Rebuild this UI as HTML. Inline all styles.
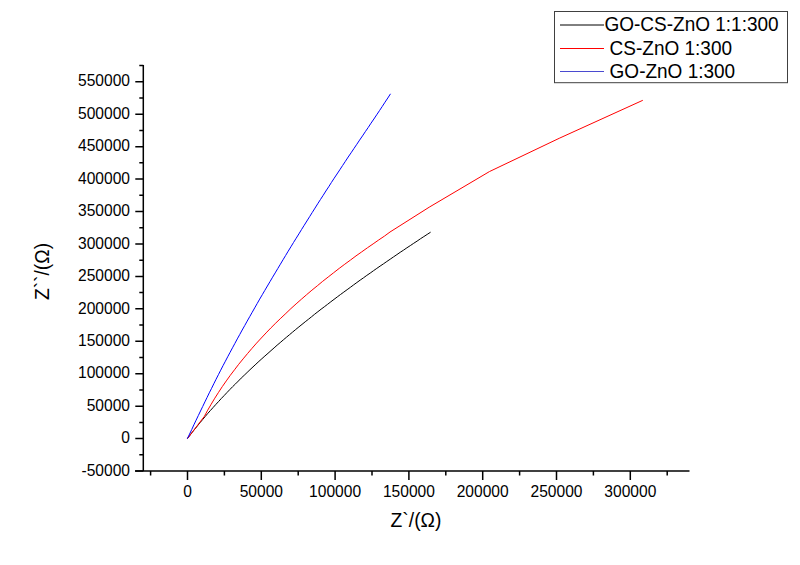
<!DOCTYPE html>
<html><head><meta charset="utf-8"><style>
html,body{margin:0;padding:0;background:#fff;}
body{width:800px;height:565px;overflow:hidden;}
svg{display:block;}
text{font-family:"Liberation Sans",sans-serif;fill:#000;}
</style></head><body>
<svg width="800" height="565" viewBox="0 0 800 565">
<rect width="800" height="565" fill="#fff"/>
<path d="M143.3,65 V471" stroke="#000" stroke-width="1.5" fill="none"/>
<path d="M135.0,471 H689.5" stroke="#000" stroke-width="1.5" fill="none"/>
<path d="M135.3,471.04H143.3M139.3,454.82H143.3M135.3,438.60H143.3M139.3,422.38H143.3M135.3,406.16H143.3M139.3,389.94H143.3M135.3,373.72H143.3M139.3,357.50H143.3M135.3,341.28H143.3M139.3,325.06H143.3M135.3,308.84H143.3M139.3,292.62H143.3M135.3,276.40H143.3M139.3,260.18H143.3M135.3,243.96H143.3M139.3,227.74H143.3M135.3,211.52H143.3M139.3,195.30H143.3M135.3,179.08H143.3M139.3,162.86H143.3M135.3,146.64H143.3M139.3,130.42H143.3M135.3,114.20H143.3M139.3,97.98H143.3M135.3,81.76H143.3M139.3,65.50H143.3" stroke="#000" stroke-width="1.5" fill="none"/>
<path d="M150.60,471V475.5M187.50,471V480M224.40,471V475.5M261.30,471V480M298.20,471V475.5M335.10,471V480M372.00,471V475.5M408.90,471V480M445.80,471V475.5M482.70,471V480M519.60,471V475.5M556.50,471V480M593.40,471V475.5M630.30,471V480M667.20,471V475.5" stroke="#000" stroke-width="1.5" fill="none"/>
<text transform="translate(130,475.74) scale(1,1.03)" text-anchor="end" font-size="15.6">-50000</text>
<text transform="translate(130,443.30) scale(1,1.03)" text-anchor="end" font-size="15.6">0</text>
<text transform="translate(130,410.86) scale(1,1.03)" text-anchor="end" font-size="15.6">50000</text>
<text transform="translate(130,378.42) scale(1,1.03)" text-anchor="end" font-size="15.6">100000</text>
<text transform="translate(130,345.98) scale(1,1.03)" text-anchor="end" font-size="15.6">150000</text>
<text transform="translate(130,313.54) scale(1,1.03)" text-anchor="end" font-size="15.6">200000</text>
<text transform="translate(130,281.10) scale(1,1.03)" text-anchor="end" font-size="15.6">250000</text>
<text transform="translate(130,248.66) scale(1,1.03)" text-anchor="end" font-size="15.6">300000</text>
<text transform="translate(130,216.22) scale(1,1.03)" text-anchor="end" font-size="15.6">350000</text>
<text transform="translate(130,183.78) scale(1,1.03)" text-anchor="end" font-size="15.6">400000</text>
<text transform="translate(130,151.34) scale(1,1.03)" text-anchor="end" font-size="15.6">450000</text>
<text transform="translate(130,118.90) scale(1,1.03)" text-anchor="end" font-size="15.6">500000</text>
<text transform="translate(130,86.46) scale(1,1.03)" text-anchor="end" font-size="15.6">550000</text>
<text transform="translate(187.50,496.5) scale(1,1.03)" text-anchor="middle" font-size="15.6">0</text>
<text transform="translate(261.30,496.5) scale(1,1.03)" text-anchor="middle" font-size="15.6">50000</text>
<text transform="translate(335.10,496.5) scale(1,1.03)" text-anchor="middle" font-size="15.6">100000</text>
<text transform="translate(408.90,496.5) scale(1,1.03)" text-anchor="middle" font-size="15.6">150000</text>
<text transform="translate(482.70,496.5) scale(1,1.03)" text-anchor="middle" font-size="15.6">200000</text>
<text transform="translate(556.50,496.5) scale(1,1.03)" text-anchor="middle" font-size="15.6">250000</text>
<text transform="translate(630.30,496.5) scale(1,1.03)" text-anchor="middle" font-size="15.6">300000</text>
<text x="416" y="526.5" text-anchor="middle" font-size="19.3">Z`/(&#937;)</text>
<text transform="translate(48.6,271.5) rotate(-90)" text-anchor="middle" font-size="19.3">Z``/(&#937;)</text>
<polyline points="187.4,438.6 189.9,435.4 192.3,432.2 194.9,429.0 197.4,425.9 200.0,422.7 202.6,419.6 205.2,416.5 207.8,413.4 210.5,410.4 213.2,407.4 215.9,404.4 218.7,401.4 221.4,398.4 224.2,395.5 227.0,392.5 229.8,389.6 232.6,386.7 235.5,383.9 238.4,381.0 241.2,378.1 244.2,375.3 247.1,372.5 250.0,369.7 253.0,366.9 255.9,364.2 258.9,361.4 261.9,358.7 264.9,356.0 268.0,353.3 271.0,350.6 274.1,347.9 277.1,345.2 280.2,342.6 283.3,339.9 286.4,337.3 289.5,334.7 292.6,332.1 295.7,329.5 298.9,326.9 302.0,324.4 305.2,321.8 308.4,319.3 311.5,316.8 314.7,314.2 317.9,311.7 321.1,309.2 324.3,306.8 327.6,304.3 330.8,301.8 334.0,299.4 337.3,296.9 340.5,294.5 343.8,292.1 347.1,289.7 350.4,287.3 353.6,284.9 356.9,282.5 360.2,280.1 363.5,277.8 366.8,275.4 370.2,273.1 373.5,270.7 376.8,268.4 380.1,266.1 383.5,263.8 386.8,261.5 390.2,259.2 393.5,256.9 396.9,254.6 400.2,252.3 403.6,250.1 406.9,247.8 410.3,245.6 413.7,243.3 417.1,241.1 420.4,238.8 423.8,236.6 427.2,234.4 430.6,232.2" stroke="#000000" stroke-width="1.0" fill="none" stroke-linejoin="round"/>
<polyline points="187.4,438.6 204.4,416.3 207.7,410.2 211.2,404.2 214.8,398.2 218.5,392.4 222.3,386.6 226.3,380.9 230.3,375.3 234.5,369.8 238.7,364.3 243.1,358.9 247.5,353.6 252.0,348.3 256.6,343.1 261.3,338.0 266.1,332.9 270.9,327.9 275.8,323.0 280.8,318.2 285.9,313.4 290.9,308.6 296.1,303.9 301.3,299.3 306.6,294.7 311.9,290.2 317.3,285.8 322.7,281.3 328.2,277.0 333.7,272.7 339.2,268.4 344.8,264.2 350.4,260.1 356.0,255.9 361.7,251.9 367.4,247.8 373.1,243.9 378.8,239.9 384.6,236.0 390.0,232.0 429.2,207.2 489.4,171.6 559.2,138.3 642.8,100.3" stroke="#ff0000" stroke-width="1.0" fill="none" stroke-linejoin="round"/>
<polyline points="187.4,438.6 189.6,434.0 191.8,429.4 193.9,424.8 196.1,420.2 198.3,415.6 200.5,411.0 202.7,406.5 204.9,401.9 207.1,397.4 209.3,392.8 211.6,388.3 213.8,383.8 216.1,379.2 218.4,374.7 220.7,370.2 223.0,365.7 225.4,361.2 227.7,356.8 230.1,352.3 232.5,347.8 234.9,343.4 237.3,338.9 239.8,334.4 242.2,330.0 244.7,325.6 247.2,321.1 249.7,316.7 252.2,312.3 254.7,307.9 257.2,303.5 259.7,299.1 262.3,294.7 264.8,290.4 267.4,286.0 270.0,281.6 272.6,277.2 275.2,272.9 277.8,268.5 280.4,264.2 283.0,259.8 285.6,255.5 288.2,251.2 290.9,246.8 293.5,242.5 296.2,238.2 298.9,233.9 301.5,229.6 304.2,225.3 306.9,221.0 309.6,216.7 312.3,212.4 315.0,208.1 317.7,203.8 320.4,199.6 323.2,195.3 325.9,191.0 328.7,186.8 331.4,182.5 334.2,178.2 337.0,174.0 339.8,169.8 342.6,165.5 345.4,161.3 348.2,157.0 351.1,152.8 353.9,148.6 356.8,144.3 359.6,140.1 362.5,135.9 365.3,131.7 368.2,127.5 371.0,123.2 373.9,119.0 376.7,114.8 379.5,110.6 382.3,106.4 385.0,102.2 387.8,98.0 390.5,93.8" stroke="#0000ff" stroke-width="1.0" fill="none" stroke-linejoin="round"/>
<rect x="554.5" y="11.5" width="233" height="71.2" fill="#fff" stroke="#404040" stroke-width="1"/>
<path d="M560,25.0H604" stroke="#000000" stroke-width="1"/>
<text transform="translate(604.5,31.3) scale(1,1.05)" font-size="19.0">GO-CS-ZnO 1:1:300</text>
<path d="M560,48.5H604" stroke="#ff0000" stroke-width="1"/>
<text transform="translate(609.6,55.1) scale(1,1.05)" font-size="19.0">CS-ZnO 1:300</text>
<path d="M560,71.5H604" stroke="#4a4ad0" stroke-width="1"/>
<text transform="translate(609.6,78.1) scale(1,1.05)" font-size="19.0">GO-ZnO 1:300</text>
</svg>
</body></html>
